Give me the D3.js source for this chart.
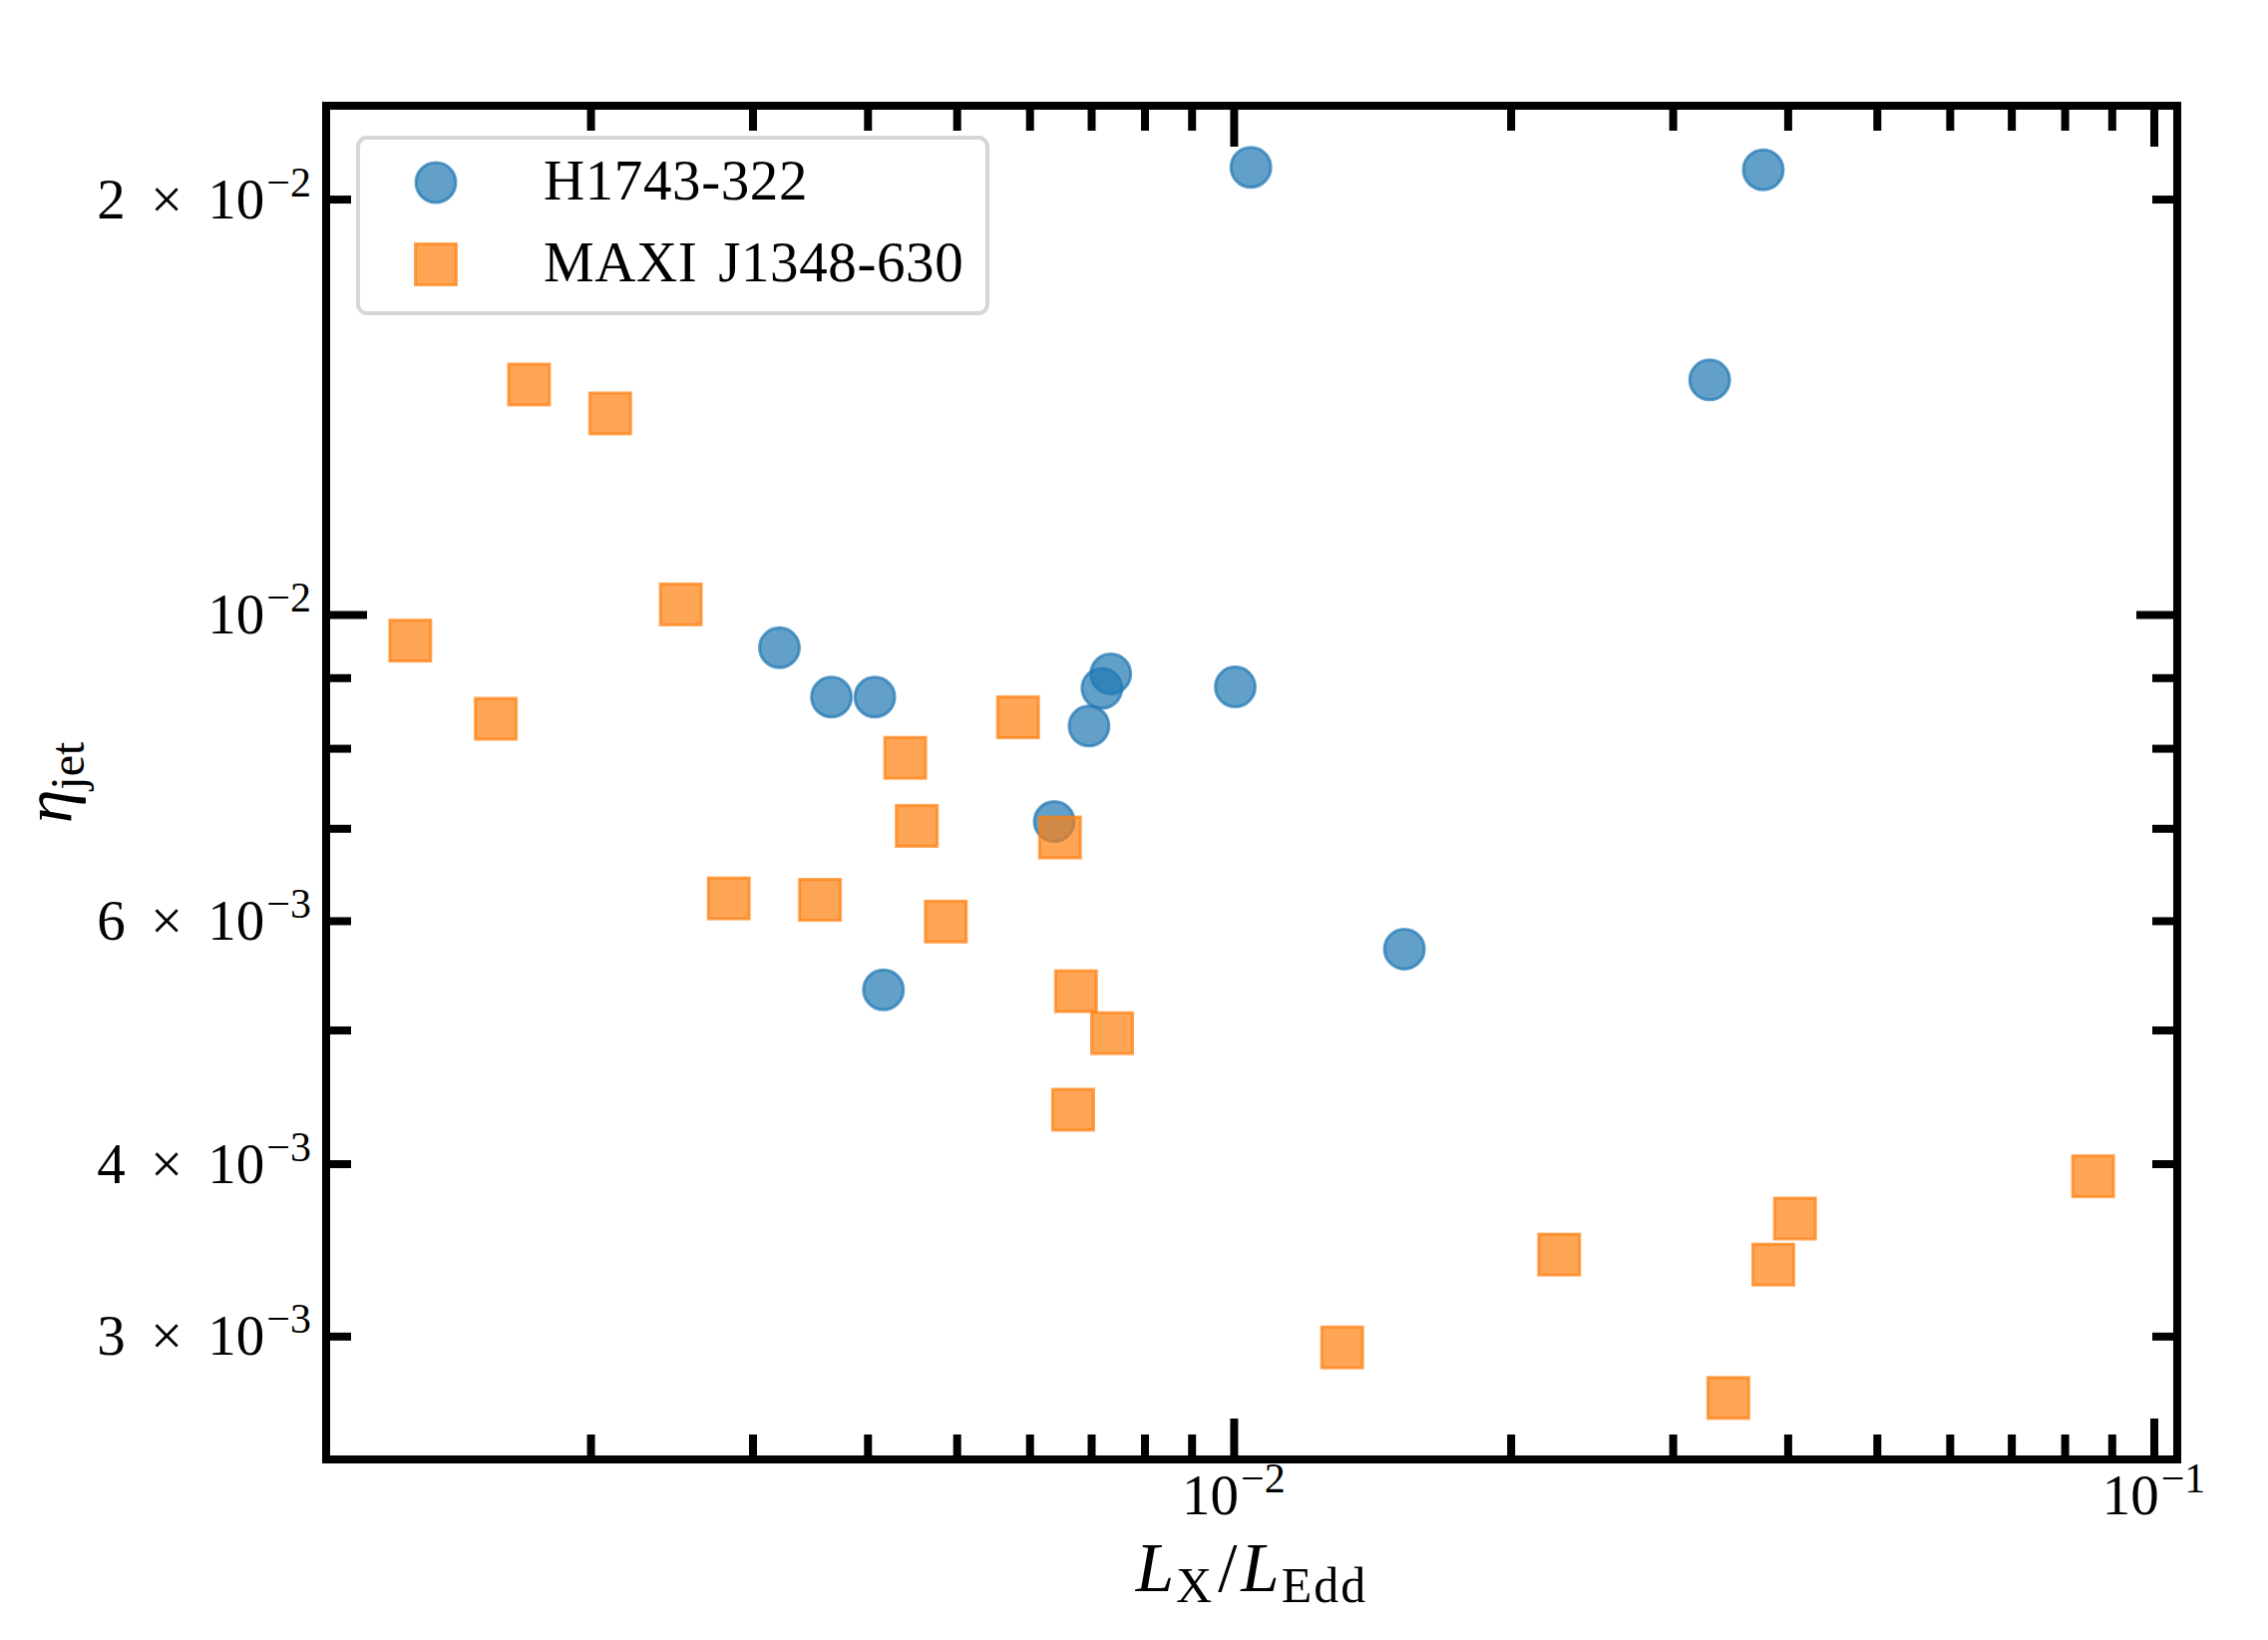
<!DOCTYPE html>
<html>
<head>
<meta charset="UTF-8">
<script src="https://cdn.jsdelivr.net/npm/d3@7"></script>
<title>eta_jet vs Lx/LEdd</title>
<style>
    body { margin: 0; background: #fff; }
    text { font-family: 'Liberation Serif', 'DejaVu Serif', serif; fill: #000; }
</style>
</head>
<body>
<div id="chart"></div>
<script>
// series names (legend)
const seriesNames = ["H1743-322", "MAXI J1348-630"];

// H1743-322 : Lx/LEdd and eta_jet
const h1743_lx  = [0.01044, 0.03763, 0.03291, 0.003209, 0.003655, 0.004074, 0.007352, 0.007192, 0.006963, 0.01004, 0.006383, 0.01533, 0.004163];
const h1743_eta = [0.02109, 0.02100, 0.01479, 0.009460, 0.008713, 0.008713, 0.009057, 0.008842, 0.008302, 0.008862, 0.007079, 0.005722, 0.005346];

// MAXI J1348-630 : Lx/LEdd and eta_jet
const maxi_lx  = [0.001274, 0.001578, 0.001715, 0.002101, 0.002507, 0.002827, 0.003552, 0.004396, 0.004525, 0.004866, 0.005830,
                  0.006476, 0.006740, 0.007377, 0.006692, 0.01312, 0.02258, 0.03448, 0.03859, 0.04074, 0.08590];
const maxi_eta = [0.009574, 0.008403, 0.014677, 0.013986, 0.010170, 0.006227, 0.006212, 0.007873, 0.007028, 0.005991, 0.008424,
                  0.006893, 0.005334, 0.004973, 0.004377, 0.002944, 0.003437, 0.002706, 0.003380, 0.003650, 0.003917];

// ticks
const xMajorTicks = [0.01, 0.1];
const xMinorTicks = [0.002, 0.003, 0.004, 0.005, 0.006, 0.007, 0.008, 0.009,
                     0.02, 0.03, 0.04, 0.05, 0.06, 0.07, 0.08, 0.09];
const xTickLabels = [["10", "−2"], ["10", "−1"]];
const yMajorTicks = [0.01];
const yMinorTicks = [0.003, 0.004, 0.005, 0.006, 0.007, 0.008, 0.009, 0.02];
const yLabelTicks = [0.02, 0.01, 0.006, 0.004, 0.003];
const yTickLabels = [["2 × 10", "−2"], ["10", "−2"], ["6 × 10", "−3"], ["4 × 10", "−3"], ["3 × 10", "−3"]];

const width = 2274, height = 1644;
const margin = { top: 106, right: 91, bottom: 181, left: 327 };
const innerW = width - margin.left - margin.right;
const innerH = height - margin.top - margin.bottom;

// matplotlib-style 5% padding in log space
const logPad = vals => {
    const lo = Math.log10(d3.min(vals)), hi = Math.log10(d3.max(vals));
    const p = (hi - lo) * 0.05;
    return [Math.pow(10, lo - p), Math.pow(10, hi + p)];
};

const x = d3.scaleLog()
    .domain(logPad(h1743_lx.concat(maxi_lx)))
    .range([margin.left, margin.left + innerW]);
const y = d3.scaleLog()
    .domain(logPad(h1743_eta.concat(maxi_eta)))
    .range([margin.top + innerH, margin.top]);

const svg = d3.select("#chart").append("svg")
    .attr("width", width)
    .attr("height", height);

// ticks on all four sides, pointing inward
const majorLen = 41, minorLen = 25, tickW = 8;
const addAxis = (axis, tx, ty) => {
    const g = svg.append("g")
        .attr("transform", `translate(${tx},${ty})`)
        .call(axis);
    g.select(".domain").remove();
    g.selectAll(".tick line").attr("stroke", "#000").attr("stroke-width", tickW);
    g.selectAll(".tick text").remove();
};
const bottomY = margin.top + innerH, rightX = margin.left + innerW;
[[xMajorTicks, majorLen], [xMinorTicks, minorLen]].forEach(([vals, len]) => {
    addAxis(d3.axisTop(x).tickValues(vals).tickSize(len).tickFormat(""), 0, bottomY);
    addAxis(d3.axisBottom(x).tickValues(vals).tickSize(len).tickFormat(""), 0, margin.top);
});
[[yMajorTicks, majorLen], [yMinorTicks, minorLen]].forEach(([vals, len]) => {
    addAxis(d3.axisRight(y).tickValues(vals).tickSize(len).tickFormat(""), margin.left, 0);
    addAxis(d3.axisLeft(y).tickValues(vals).tickSize(len).tickFormat(""), rightX, 0);
});

// tick labels with superscripts
const labelSize = 57, supSize = 42;
xMajorTicks.forEach((v, i) => {
    const t = svg.append("text")
        .attr("x", x(v))
        .attr("y", bottomY + 55)
        .attr("text-anchor", "middle")
        .style("font-size", labelSize + "px");
    t.append("tspan").text(xTickLabels[i][0]);
    t.append("tspan").attr("dx", 2).attr("dy", -22).style("font-size", supSize + "px").text(xTickLabels[i][1]);
});
yLabelTicks.forEach((v, i) => {
    const t = svg.append("text")
        .attr("x", margin.left - 15)
        .attr("y", y(v) + 19)
        .attr("text-anchor", "end")
        .style("font-size", labelSize + "px")
        .style("word-spacing", "11px");
    t.append("tspan").text(yTickLabels[i][0]);
    t.append("tspan").attr("dx", 2).attr("dy", -22).style("font-size", supSize + "px").text(yTickLabels[i][1]);
});

// data
const blue = "#1f77b4", orange = "#ff7f0e";
svg.append("g").selectAll("circle")
    .data(d3.zip(h1743_lx, h1743_eta))
    .enter()
    .append("circle")
    .attr("cx", d => x(d[0]))
    .attr("cy", d => y(d[1]))
    .attr("r", 20)
    .attr("fill", blue).attr("fill-opacity", 0.7)
    .attr("stroke", blue).attr("stroke-opacity", 0.7).attr("stroke-width", 3);

const sq = 41;
svg.append("g").selectAll("rect")
    .data(d3.zip(maxi_lx, maxi_eta))
    .enter()
    .append("rect")
    .attr("x", d => x(d[0]) - sq / 2)
    .attr("y", d => y(d[1]) - sq / 2)
    .attr("width", sq).attr("height", sq)
    .attr("fill", orange).attr("fill-opacity", 0.7)
    .attr("stroke", orange).attr("stroke-opacity", 0.7).attr("stroke-width", 3);

// frame
svg.append("rect")
    .attr("x", margin.left).attr("y", margin.top)
    .attr("width", innerW).attr("height", innerH)
    .attr("fill", "none").attr("stroke", "#000").attr("stroke-width", 8);

// legend
const legend = svg.append("g");
legend.append("rect")
    .attr("x", 359).attr("y", 138)
    .attr("width", 631).attr("height", 176)
    .attr("rx", 9)
    .attr("fill", "#fff").attr("fill-opacity", 0.8)
    .attr("stroke", "#d6d6d6").attr("stroke-width", 4);
legend.append("circle")
    .attr("cx", 437).attr("cy", 183).attr("r", 20)
    .attr("fill", blue).attr("fill-opacity", 0.7)
    .attr("stroke", blue).attr("stroke-opacity", 0.7).attr("stroke-width", 3);
legend.append("rect")
    .attr("x", 437 - sq / 2).attr("y", 265 - sq / 2)
    .attr("width", sq).attr("height", sq)
    .attr("fill", orange).attr("fill-opacity", 0.7)
    .attr("stroke", orange).attr("stroke-opacity", 0.7).attr("stroke-width", 3);
legend.selectAll("text.lab")
    .data(seriesNames)
    .enter()
    .append("text")
    .attr("class", "lab")
    .attr("x", 545)
    .attr("y", (d, i) => 200 + i * 82)
    .style("font-size", "57px")
    .style("letter-spacing", "0.6px")
    .style("word-spacing", "6px")
    .text(d => d);

// axis labels
const xl = svg.append("text")
    .attr("x", margin.left + innerW / 2)
    .attr("y", 1595)
    .attr("text-anchor", "middle")
    .style("font-size", "69px");
xl.append("tspan").style("font-style", "italic").text("L");
xl.append("tspan").attr("dx", 2).attr("dy", 11).style("font-size", "50px").style("letter-spacing", "2px").text("X");
xl.append("tspan").attr("dx", 4).attr("dy", -11).text("/");
xl.append("tspan").attr("dx", 4).style("font-style", "italic").text("L");
xl.append("tspan").attr("dx", 2).attr("dy", 11).style("font-size", "50px").style("letter-spacing", "2px").text("Edd");

const yl = svg.append("text")
    .attr("transform", `translate(72,${margin.top + innerH / 2}) rotate(-90)`)
    .attr("text-anchor", "middle")
    .style("font-size", "68px");
yl.append("tspan").style("font-style", "italic").text("η");
yl.append("tspan").attr("dy", 12).style("font-size", "48px").text("jet");
</script>
</body>
</html>
